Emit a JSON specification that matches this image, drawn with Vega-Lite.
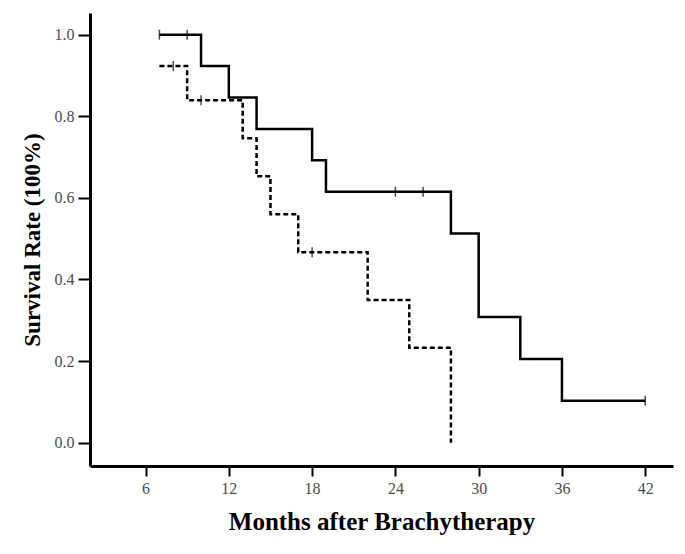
{
  "$schema": "https://vega.github.io/schema/vega-lite/v6.json",
  "autosize": "none",
  "padding": {"left": 90, "top": 13, "right": 12, "bottom": 88},
  "width": 583,
  "height": 453,
  "background": "white",
  "config": {
    "view": {"stroke": null},
    "axis": {
      "domainColor": "black",
      "domainWidth": 3,
      "tickColor": "black",
      "tickWidth": 2,
      "grid": false,
      "labelFont": "Liberation Serif",
      "labelFontSize": 16,
      "labelColor": "#4d4d4d",
      "titleFont": "Liberation Serif",
      "titleFontWeight": "bold",
      "titleColor": "black"
    }
  },
  "datasets": {
    "curves": [
      {"group": "A", "month": 7, "rate": 1.0},
      {"group": "A", "month": 10, "rate": 0.923},
      {"group": "A", "month": 12, "rate": 0.846},
      {"group": "A", "month": 14, "rate": 0.769},
      {"group": "A", "month": 18, "rate": 0.692},
      {"group": "A", "month": 19, "rate": 0.615},
      {"group": "A", "month": 28, "rate": 0.513},
      {"group": "A", "month": 30, "rate": 0.308},
      {"group": "A", "month": 33, "rate": 0.205},
      {"group": "A", "month": 36, "rate": 0.103},
      {"group": "A", "month": 42, "rate": 0.103},
      {"group": "B", "month": 7, "rate": 0.923},
      {"group": "B", "month": 9, "rate": 0.839},
      {"group": "B", "month": 13, "rate": 0.746},
      {"group": "B", "month": 14, "rate": 0.653},
      {"group": "B", "month": 15, "rate": 0.56},
      {"group": "B", "month": 17, "rate": 0.467},
      {"group": "B", "month": 22, "rate": 0.35},
      {"group": "B", "month": 25, "rate": 0.233},
      {"group": "B", "month": 28, "rate": 0.0}
    ],
    "censor": [
      {"group": "A", "month": 7, "rate": 1.0},
      {"group": "A", "month": 9, "rate": 1.0},
      {"group": "A", "month": 24, "rate": 0.615},
      {"group": "A", "month": 26, "rate": 0.615},
      {"group": "A", "month": 42, "rate": 0.103},
      {"group": "B", "month": 8, "rate": 0.923},
      {"group": "B", "month": 10, "rate": 0.839},
      {"group": "B", "month": 18, "rate": 0.467}
    ]
  },
  "layer": [
    {
      "data": {"name": "curves"},
      "mark": {"type": "line", "interpolate": "step-after", "color": "black", "strokeWidth": 2.5},
      "encoding": {
        "x": {
          "field": "month", "type": "quantitative",
          "scale": {"domain": [2, 44], "nice": false, "zero": false},
          "axis": {
            "values": [6, 12, 18, 24, 30, 36, 42],
            "title": "Months after Brachytherapy",
            "titleFontSize": 25,
            "titlePadding": 13,
            "tickSize": 10,
            "labelPadding": 4
          }
        },
        "y": {
          "field": "rate", "type": "quantitative",
          "scale": {"domain": [-0.057, 1.053], "nice": false, "zero": false},
          "axis": {
            "values": [0, 0.2, 0.4, 0.6, 0.8, 1.0],
            "format": ".1f",
            "title": "Survival Rate (100%)",
            "titleFontSize": 23,
            "titlePadding": 10,
            "tickSize": 12,
            "labelPadding": 4
          }
        },
        "detail": {"field": "group"},
        "strokeDash": {
          "field": "group", "type": "nominal",
          "scale": {"domain": ["A", "B"], "range": [[1, 0], [5, 3]]},
          "legend": null
        }
      }
    },
    {
      "data": {"name": "censor"},
      "mark": {"type": "tick", "orient": "vertical", "color": "black", "size": 10, "thickness": 1.5},
      "encoding": {
        "x": {"field": "month", "type": "quantitative"},
        "y": {"field": "rate", "type": "quantitative"}
      }
    }
  ]
}
